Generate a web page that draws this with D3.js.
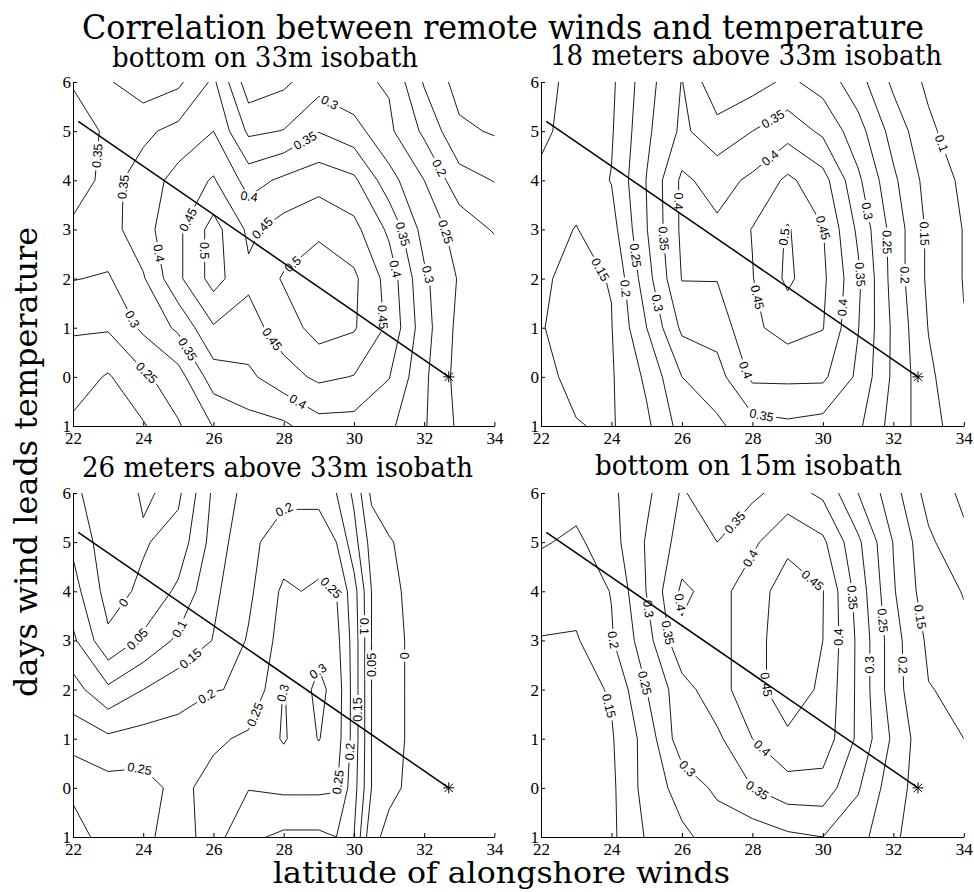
<!DOCTYPE html>
<html><head><meta charset="utf-8">
<script src="https://cdn.jsdelivr.net/npm/d3@7"></script>
<style>
body{margin:0;background:#fff;}
svg{display:block;}
</style></head>
<body>
<svg id="chart" width="974" height="892"></svg>
<script>
// ---------------- data ----------------
const latitudes = [22,23,24,25,26,27,28,29,30,31,32,33,34];
const latitudes26 = [22,23,24,25,26,27,28,28.5,29,29.5,30,30.5,31,32,33,34];
const lagDays = [6,5,4,3,2,1,0,-1];
const contourLevels = [0,0.05,0.1,0.15,0.2,0.25,0.3,0.35,0.4,0.45,0.5];
const xTicks = [22,24,26,28,30,32,34];
const yTicks = [6,5,4,3,2,1,0,-1];
const yTickLabels = ["6","5","4","3","2","1","0","1"];
const windLine = [[22.15,5.2],[32.7,0]];
const starPoint = [32.7,0];

const mainTitle = "Correlation between remote winds and temperature";
const xLabel = "latitude of alongshore winds";
const yLabel = "days wind leads temperature";
const panelTitles = ["bottom on 33m isobath","18 meters above 33m isobath","26 meters above 33m isobath","bottom on 15m isobath"];

// rows: lag 6 ... -1 ; columns: latitudes (latitudes26 for the 26 m panel)
const bottom33 = [
 [0.345,0.305,0.27,0.29,0.36,0.22,0.24,0.28,0.26,0.245,0.145,0.08,0.05],
 [0.38,0.34,0.34,0.365,0.4,0.29,0.302,0.348,0.32,0.26,0.19,0.11,0.095],
 [0.375,0.335,0.37,0.42,0.455,0.38,0.41,0.43,0.41,0.32,0.25,0.17,0.148],
 [0.34,0.33,0.38,0.44,0.52,0.44,0.47,0.49,0.465,0.39,0.28,0.23,0.195],
 [0.302,0.295,0.345,0.44,0.52,0.46,0.505,0.53,0.51,0.43,0.31,0.245,0.245],
 [0.255,0.255,0.31,0.36,0.445,0.43,0.475,0.52,0.505,0.44,0.32,0.235,0.23],
 [0.225,0.195,0.24,0.28,0.375,0.39,0.43,0.46,0.448,0.402,0.31,0.23,0.22],
 [0.19,0.175,0.195,0.245,0.302,0.33,0.34,0.38,0.38,0.36,0.305,0.24,0.22]
];
const above18 = [
 [0.22,0.18,0.19,0.28,0.352,0.26,0.28,0.31,0.28,0.22,0.14,0.09,0.05],
 [0.21,0.18,0.195,0.29,0.36,0.32,0.35,0.38,0.34,0.27,0.18,0.11,0.07],
 [0.19,0.17,0.202,0.302,0.41,0.38,0.41,0.46,0.42,0.31,0.21,0.13,0.09],
 [0.17,0.148,0.18,0.298,0.41,0.41,0.452,0.505,0.452,0.34,0.23,0.14,0.098],
 [0.155,0.14,0.152,0.28,0.402,0.402,0.448,0.51,0.46,0.36,0.23,0.14,0.098],
 [0.152,0.135,0.148,0.25,0.36,0.37,0.44,0.47,0.452,0.352,0.24,0.148,0.102],
 [0.16,0.14,0.145,0.21,0.3,0.33,0.41,0.41,0.41,0.34,0.24,0.16,0.11],
 [0.17,0.152,0.145,0.19,0.27,0.29,0.33,0.34,0.33,0.31,0.23,0.17,0.12]
];
const above26 = [
 [0.01,-0.03,0.005,-0.01,0.11,0.17,0.19,0.19,0.19,0.15,0.09,-0.01,-0.02,-0.02,-0.02,-0.02],
 [0.04,-0.03,-0.005,0.02,0.12,0.19,0.22,0.22,0.22,0.2,0.12,0.03,0.003,-0.02,-0.02,-0.02],
 [0.07,-0.02,0.01,0.06,0.14,0.19,0.26,0.25,0.26,0.25,0.17,0.05,0.008,-0.015,-0.02,-0.02],
 [0.11,0.01,0.06,0.11,0.152,0.205,0.27,0.27,0.28,0.265,0.18,0.05,0.012,-0.015,-0.02,-0.02],
 [0.17,0.11,0.15,0.18,0.198,0.205,0.302,0.28,0.315,0.28,0.18,0.05,0.012,-0.015,-0.02,-0.02],
 [0.23,0.21,0.22,0.22,0.24,0.26,0.305,0.28,0.302,0.275,0.18,0.05,0.012,-0.015,-0.02,-0.02],
 [0.29,0.27,0.27,0.235,0.27,0.252,0.26,0.26,0.26,0.255,0.17,0.05,0.008,-0.015,-0.02,-0.02],
 [0.32,0.28,0.26,0.23,0.27,0.21,0.19,0.19,0.19,0.2,0.15,0.01,-0.01,-0.02,-0.02,-0.02]
];
const bottom15 = [
 [0.21,0.22,0.24,0.29,0.355,0.32,0.34,0.37,0.34,0.25,0.17,0.08,0.04],
 [0.205,0.19,0.23,0.305,0.37,0.35,0.39,0.44,0.41,0.31,0.198,0.11,0.06],
 [0.17,0.17,0.202,0.302,0.41,0.38,0.43,0.47,0.452,0.33,0.205,0.12,0.098],
 [0.148,0.145,0.195,0.28,0.39,0.38,0.43,0.48,0.45,0.34,0.22,0.14,0.11],
 [0.13,0.13,0.155,0.25,0.33,0.38,0.43,0.48,0.44,0.34,0.22,0.152,0.14],
 [0.12,0.12,0.145,0.22,0.33,0.34,0.4,0.44,0.43,0.34,0.24,0.16,0.15],
 [0.12,0.13,0.14,0.22,0.27,0.31,0.35,0.38,0.38,0.305,0.22,0.17,0.16],
 [0.13,0.14,0.14,0.205,0.24,0.27,0.27,0.29,0.3,0.27,0.205,0.18,0.16]
];

// ---------------- layout ----------------
const svg = d3.select("#chart");
const W0 = 974, H0 = 892;
svg.append("rect").attr("width",W0).attr("height",H0).attr("fill","#fff");

const panels = [
  {grid: bottom33, cols: latitudes,   title: panelTitles[0], x0:73,  x1:494.4, yTop:82,  yBot:426, tx:265,   ty:67,  tw:306},
  {grid: above18,  cols: latitudes,   title: panelTitles[1], x0:541, x1:963.8, yTop:82,  yBot:426, tx:746,   ty:65,  tw:392},
  {grid: above26,  cols: latitudes26, title: panelTitles[2], x0:73,  x1:494.4, yTop:493, yBot:837, tx:277.5, ty:477, tw:391},
  {grid: bottom15, cols: latitudes,   title: panelTitles[3], x0:541, x1:963.8, yTop:493, yBot:837, tx:748.5, ty:475, tw:307}
];

const fmt = v => (+v.toFixed(2)).toString();

function padGrid(rows){
  const ny = rows.length, nx = rows[0].length;
  const W = nx + 2, H = ny + 2;
  const vals = new Array(W*H);
  for (let j = 0; j < H; j++) for (let i = 0; i < W; i++) {
    const jj = Math.min(ny-1, Math.max(0, j-1));
    const ii = Math.min(nx-1, Math.max(0, i-1));
    vals[j*W + i] = rows[jj][ii];
  }
  return {vals, W, H};
}

function pointAt(run, cum, s){
  let i = 1;
  while (i < cum.length-1 && cum[i] < s) i++;
  const seg = cum[i]-cum[i-1] || 1;
  const t = Math.max(0, Math.min(1, (s-cum[i-1])/seg));
  return [run[i-1][0] + t*(run[i][0]-run[i-1][0]), run[i-1][1] + t*(run[i][1]-run[i-1][1])];
}

const defs = svg.append("defs");

panels.forEach((cfg, idx) => {
  const x = d3.scaleLinear().domain([22,34]).range([cfg.x0, cfg.x1]);
  const y = d3.scaleLinear().domain([-1,6]).range([cfg.yBot, cfg.yTop]);
  const colLat = d3.scaleLinear().domain(d3.range(cfg.cols.length)).range(cfg.cols);
  const rowLag = d3.scaleLinear().domain(d3.range(lagDays.length)).range(lagDays);
  const g = svg.append("g");

  const clipId = "clip"+idx, maskId = "mask"+idx;
  defs.append("clipPath").attr("id", clipId).append("rect")
    .attr("x", cfg.x0).attr("y", cfg.yTop).attr("width", cfg.x1-cfg.x0).attr("height", cfg.yBot-cfg.yTop);
  const mask = defs.append("mask").attr("id", maskId).attr("maskUnits","userSpaceOnUse")
    .attr("x",0).attr("y",0).attr("width",W0).attr("height",H0);
  mask.append("rect").attr("x",0).attr("y",0).attr("width",W0).attr("height",H0).attr("fill","#fff");

  const {vals, W, H} = padGrid(cfg.grid);
  const toPx = ([X,Y]) => [x(colLat(X-1.5)), y(rowLag(Y-1.5))];
  const contours = d3.contours().size([W,H]).thresholds(contourLevels)(vals);
  const lines = [];
  contours.forEach(c => {
    c.coordinates.forEach(poly => poly.forEach(ring => {
      lines.push({level: c.value, pts: ring.map(toPx)});
    }));
  });

  const lineG = g.append("g").attr("clip-path", `url(#${clipId})`)
    .append("g").attr("mask", `url(#${maskId})`);
  const lineGen = d3.line();
  lines.forEach(l => {
    lineG.append("path").attr("d", lineGen(l.pts) + "Z")
      .attr("fill","none").attr("stroke","#000").attr("stroke-width",0.9).attr("stroke-linejoin","round");
  });

  // contour labels
  const labelG = g.append("g").attr("font-family","'Liberation Sans', Arial, sans-serif")
    .attr("font-size",12.5).attr("fill","#000");
  const placed = [];
  const m = 7;
  const inside = p => p[0] > cfg.x0+m && p[0] < cfg.x1-m && p[1] > cfg.yTop+m && p[1] < cfg.yBot-m;
  lines.forEach(l => {
    const pts = l.pts.concat([l.pts[0]]);
    const runs = []; let cur = [];
    pts.forEach(p => { if (inside(p)) cur.push(p); else { if (cur.length > 1) runs.push(cur); cur = []; } });
    if (cur.length > 1) runs.push(cur);
    runs.forEach(run => {
      const cum = [0];
      for (let i = 1; i < run.length; i++) cum.push(cum[i-1] + Math.hypot(run[i][0]-run[i-1][0], run[i][1]-run[i-1][1]));
      const L = cum[cum.length-1];
      if (L < 45) return;
      const n = Math.max(1, Math.round(L/210));
      for (let k = 0; k < n; k++) {
        let s = (k+0.5)*L/n;
        let p = pointAt(run, cum, s);
        const cands = [0, 22, -22, 45, -45, 70, -70];
        let ok = false;
        for (const off of cands) {
          const ss = Math.max(13, Math.min(L-13, s+off));
          const pp = pointAt(run, cum, ss);
          if (!placed.some(q => Math.hypot(q[0]-pp[0], q[1]-pp[1]) < 30)) { s = ss; p = pp; ok = true; break; }
        }
        if (!ok) continue;
        const a = pointAt(run, cum, Math.max(0, s-11)), b = pointAt(run, cum, Math.min(L, s+11));
        let ang = Math.atan2(b[1]-a[1], b[0]-a[0]) * 180 / Math.PI;
        if (ang > 90) ang -= 180;
        if (ang < -90) ang += 180;
        placed.push(p);
        const tr = `translate(${p[0].toFixed(2)},${p[1].toFixed(2)}) rotate(${ang.toFixed(1)})`;
        const t = labelG.append("text").attr("transform", tr).attr("text-anchor","middle")
          .attr("dy","0.36em").text(fmt(l.level));
        const w = t.node().getComputedTextLength();
        mask.append("rect").attr("transform", tr).attr("x", -w/2-2.5).attr("y", -6)
          .attr("width", w+5).attr("height", 12).attr("fill","#000");
      }
    });
  });

  // diagonal line and star
  g.append("path").attr("d", d3.line()(windLine.map(d => [x(d[0]), y(d[1])])))
    .attr("fill","none").attr("stroke","#000").attr("stroke-width",1.5);
  const sx = x(starPoint[0]), sy = y(starPoint[1]), r = 5.5, r2 = 4.2;
  g.append("path")
    .attr("d", `M${sx-r},${sy}L${sx+r},${sy}M${sx},${sy-r}L${sx},${sy+r}M${sx-r2},${sy-r2}L${sx+r2},${sy+r2}M${sx-r2},${sy+r2}L${sx+r2},${sy-r2}`)
    .attr("stroke","#000").attr("stroke-width",1).attr("fill","none");

  // axes
  const ax = g.append("g").attr("transform", `translate(0,${cfg.yBot})`)
    .call(d3.axisBottom(x).tickValues(xTicks).tickSize(-4).tickSizeOuter(0).tickPadding(6).tickFormat(d3.format("d")));
  const ay = g.append("g").attr("transform", `translate(${cfg.x0},0)`)
    .call(d3.axisLeft(y).tickValues(yTicks).tickSize(-4).tickSizeOuter(0).tickPadding(2).tickFormat((d,i) => yTickLabels[i]));
  [ax, ay].forEach(a => {
    a.attr("font-family", null).attr("font-size", null);
    a.selectAll("text").attr("fill","#000")
      .style("font-family","'Liberation Serif', 'DejaVu Serif', serif").style("font-size","17px");
    a.selectAll("path, line").attr("stroke","#000").attr("stroke-width",1);
  });

  // panel title
  svg.append("text").attr("x", cfg.tx).attr("y", cfg.ty).attr("text-anchor","middle")
    .attr("font-family","'DejaVu Serif', serif").attr("font-size",27)
    .attr("textLength", cfg.tw).attr("lengthAdjust","spacingAndGlyphs").text(cfg.title);
});

// main title and axis labels
svg.append("text").attr("x", 503).attr("y", 39).attr("text-anchor","middle")
  .attr("font-family","'DejaVu Serif', serif").attr("font-size",33)
  .attr("textLength", 842).attr("lengthAdjust","spacingAndGlyphs").text(mainTitle);
svg.append("text").attr("x", 501.5).attr("y", 883).attr("text-anchor","middle")
  .attr("font-family","'DejaVu Serif', serif").attr("font-size",29)
  .attr("textLength", 457).attr("lengthAdjust","spacingAndGlyphs").text(xLabel);
svg.append("text").attr("transform","translate(37,462) rotate(-90)").attr("text-anchor","middle")
  .attr("font-family","'DejaVu Serif', serif").attr("font-size",31)
  .attr("textLength", 470).attr("lengthAdjust","spacingAndGlyphs").text(yLabel);
</script>
</body></html>
